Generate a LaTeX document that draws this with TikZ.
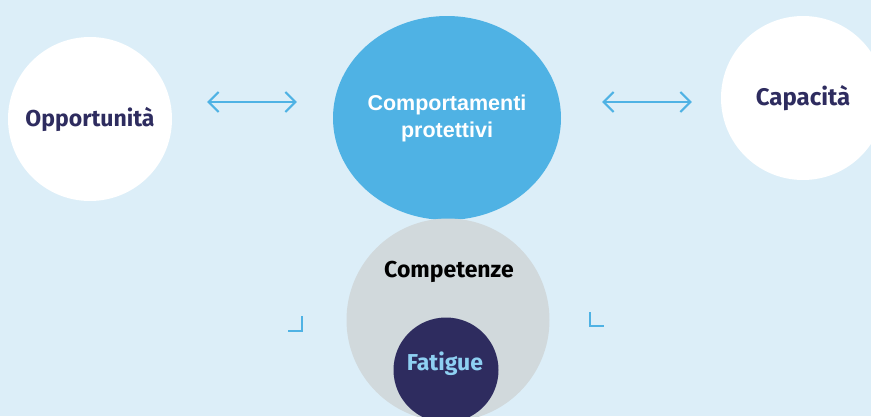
\documentclass[tikz,border=0pt]{standalone}
\usepackage{fontspec}
\setmainfont{Fira Sans}
\newfontfamily\arialfont{Liberation Sans}
\usepackage{tikz}
\usetikzlibrary{arrows.meta,positioning,shapes.geometric}
\definecolor{skybg}{HTML}{DCEEF8}
\definecolor{skyblue}{HTML}{4FB2E4}
\definecolor{navy}{HTML}{2E2C5F}
\definecolor{stone}{HTML}{D1D9DC}
\definecolor{palesky}{HTML}{8ED0F2}

\begin{document}
\begin{tikzpicture}[x=1pt, y=-1pt,
  blob/.style={circle, inner sep=0pt, text centered, font=\bfseries\fontsize{23}{26}\selectfont},
  word/.style={inner sep=0pt, align=center, font=\bfseries\fontsize{23}{26}\selectfont},
  link/.style={{Straight Barb[length=10pt,width=20pt]}-{Straight Barb[length=10pt,width=20pt]},
    line width=2pt, draw=skyblue},
  tick/.style={line width=2pt, draw=skyblue}
]
\fill[skybg] (0,0) rectangle (871,416);
\begin{scope}
\clip (0,0) rectangle (871,416);
\node[blob, fill=white, minimum size=164pt, text=navy]   (opp) at (90,119)  {Opportunità};
\node[ellipse, inner sep=0pt, fill=skyblue, minimum width=228pt, minimum height=204pt,
      text=white, align=center, font=\arialfont\bfseries\fontsize{21.5}{27}\selectfont]
      (prot) at (447,118) {Comportamenti\\protettivi};
\node[blob, fill=white, minimum size=164pt, text=navy,
      font=\bfseries\fontsize{24}{26}\selectfont]        (cap) at (803,98) {Capacità};
\node[blob, fill=stone, minimum size=203pt]              (comp) at (448,320) {};
\node[word]                                              (compl) at (449,272) {Competenze};
\node[blob, fill=navy, minimum size=105pt]               (fat) at (446,370) {};
\node[word, text=palesky]                                (fatl) at (445,364) {Fatigue};
\end{scope}
% arrows between the top circles
\draw[link, shorten <=35pt, shorten >=36pt] ([yshift=17pt]opp.east) -- ([yshift=16pt]prot.west);
\draw[link, shorten <=41pt, shorten >=29pt] ([yshift=16pt]prot.east) -- ([yshift=-4pt]cap.west);
% corner marks beside the lower circle
\draw[tick] (288,331) -- (302,331) -- (302,316);
\draw[tick] (590,312) -- (590,326) -- (604,326);
\end{tikzpicture}
\end{document}
